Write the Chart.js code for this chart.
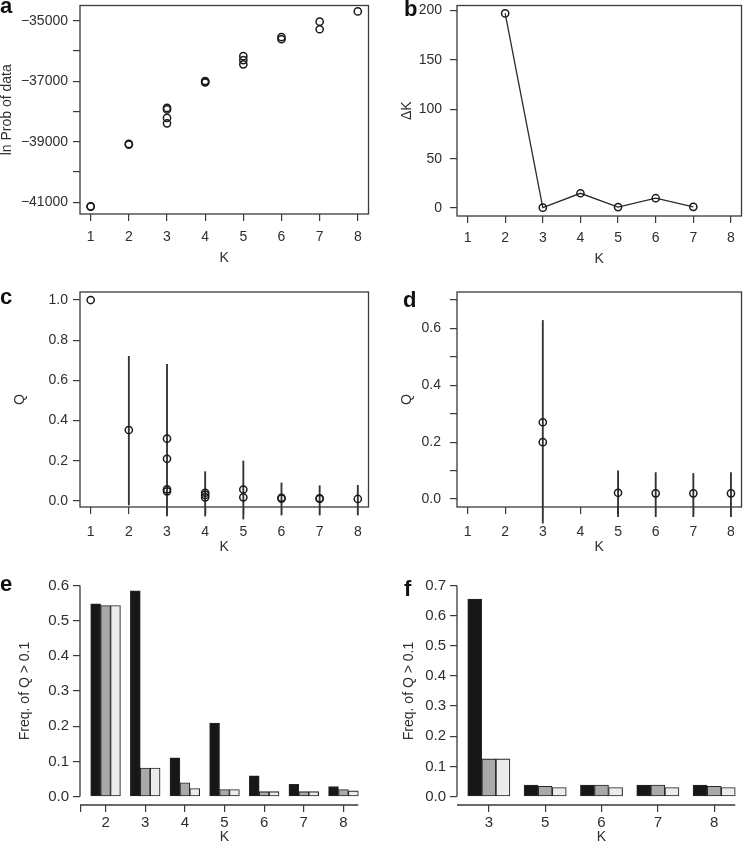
<!DOCTYPE html>
<html>
<head>
<meta charset="utf-8">
<title>Choice of K</title>
<script src="https://cdn.jsdelivr.net/npm/chart.js@4.4.1/dist/chart.umd.min.js"></script>
<style>
  html, body { margin: 0; padding: 0; background: #fff; }
  body { position: relative; width: 747px; height: 843px; overflow: hidden; font-family: "Liberation Sans", Arial, sans-serif; }
  .panel { position: absolute; }
  .tag { position: absolute; font: bold 22px/22px "Liberation Sans", Arial, sans-serif; color: #111; }
</style>
</head>
<body>
<div class="panel" style="left:0;top:0;width:374px;height:280px"><canvas id="chartA"></canvas></div>
<div class="panel" style="left:374px;top:0;width:373px;height:280px"><canvas id="chartB"></canvas></div>
<div class="panel" style="left:0;top:280px;width:374px;height:280px"><canvas id="chartC"></canvas></div>
<div class="panel" style="left:374px;top:280px;width:373px;height:280px"><canvas id="chartD"></canvas></div>
<div class="panel" style="left:0;top:560px;width:374px;height:300px"><canvas id="chartE"></canvas></div>
<div class="panel" style="left:374px;top:560px;width:373px;height:300px"><canvas id="chartF"></canvas></div>

<div class="tag" style="left:0;top:-5px">a</div>
<div class="tag" style="left:404px;top:-2px">b</div>
<div class="tag" style="left:0;top:286px">c</div>
<div class="tag" style="left:403px;top:289px">d</div>
<div class="tag" style="left:0;top:573px">e</div>
<div class="tag" style="left:404px;top:578px">f</div>

<script>
// ===================== DATA =====================

const kTicks = [1, 2, 3, 4, 5, 6, 7, 8];
const kTickLabels = ['1', '2', '3', '4', '5', '6', '7', '8'];

// a: ln Prob of data, one point per run
const runK      = [1, 1, 2, 2, 3, 3, 3, 3, 4, 4, 4, 5, 5, 5, 6, 6, 7, 7, 8];
const runLnProb = [-41140, -41130, -39090, -39070, -37880, -37930, -38210, -38390, -36990, -37010, -37040,
                   -36170, -36300, -36440, -35540, -35610, -35030, -35280, -34690];
const lnProbTicks = [-41000, -40000, -39000, -38000, -37000, -36000, -35000];
const lnProbTickLabels = ['\u221241000', '', '\u221239000', '', '\u221237000', '', '\u221235000'];

// b: delta K
const deltaKK = [2, 3, 4, 5, 6, 7];
const deltaK  = [197, 0.4, 15, 1, 10, 1.3];
const deltaKTicks = [0, 50, 100, 150, 200];
const deltaKTickLabels = ['0', '50', '100', '150', '200'];

// c: Q, all clusters
const qAllK = [1, 2, 3, 3, 3, 3, 4, 4, 4, 5, 5, 6, 6, 7, 7, 8];
const qAll  = [1.0, 0.353, 0.31, 0.21, 0.058, 0.048, 0.041, 0.03, 0.018, 0.057, 0.018, 0.016, 0.012, 0.013, 0.011, 0.01];
const qAllRangeK    = [2, 3, 4, 5, 6, 7, 8];
const qAllRangeLow  = [-0.02, -0.075, -0.075, -0.09, -0.07, -0.07, -0.07];
const qAllRangeHigh = [0.72, 0.68, 0.146, 0.199, 0.09, 0.076, 0.078];
const qAllTicks = [0, 0.2, 0.4, 0.6, 0.8, 1.0];
const qAllTickLabels = ['0.0', '0.2', '0.4', '0.6', '0.8', '1.0'];

// d: Q, subset
const qSubK = [3, 3, 5, 6, 7, 8];
const qSub  = [0.27, 0.2, 0.022, 0.02, 0.02, 0.02];
const qSubRangeK    = [3, 5, 6, 7, 8];
const qSubRangeLow  = [-0.085, -0.062, -0.062, -0.062, -0.062];
const qSubRangeHigh = [0.628, 0.099, 0.093, 0.09, 0.093];
const qSubTicks = [0, 0.1, 0.2, 0.3, 0.4, 0.5, 0.6, 0.7];
const qSubTickLabels = ['0.0', '', '0.2', '', '0.4', '', '0.6', ''];

// e: Freq. of Q > 0.1, all
const freqAllK     = ['2', '3', '4', '5', '6', '7', '8'];
const freqAllBlack = [0.548, 0.585, 0.11, 0.209, 0.059, 0.035, 0.028];
const freqAllGray  = [0.543, 0.081, 0.039, 0.02, 0.014, 0.014, 0.02];
const freqAllWhite = [0.543, 0.081, 0.023, 0.02, 0.014, 0.014, 0.016];
const freqAllTicks = [0, 0.1, 0.2, 0.3, 0.4, 0.5, 0.6];
const freqAllTickLabels = ['0.0', '0.1', '0.2', '0.3', '0.4', '0.5', '0.6'];

// f: Freq. of Q > 0.1, subset
const freqSubK     = ['3', '5', '6', '7', '8'];
const freqSubBlack = [0.655, 0.038, 0.038, 0.038, 0.038];
const freqSubGray  = [0.125, 0.034, 0.038, 0.038, 0.034];
const freqSubWhite = [0.125, 0.03, 0.03, 0.03, 0.03];
const freqSubTicks = [0, 0.1, 0.2, 0.3, 0.4, 0.5, 0.6, 0.7];
const freqSubTickLabels = ['0.0', '0.1', '0.2', '0.3', '0.4', '0.5', '0.6', '0.7'];

// ===================== STYLE / LAYOUT =====================

const AXIS = '#3a3a3a';
const TEXT = '#2e2e2e';
const FONT = '"Liberation Sans", Arial, sans-serif';
const HALF_LINE = 8.4; // half line height of 14px titles

// box = canvas [x, y, w, h] on page, area = plot box [l, t, r, b] on page
const LAYOUT = {
    a: { box: [0, 0, 374, 280],     area: [80, 1, 369, 214],    yTitleX: 7,   xTitleY: 258 },
    b: { box: [374, 0, 373, 280],   area: [457, 2, 746, 216],   yTitleX: 407, xTitleY: 259 },
    c: { box: [0, 280, 374, 280],   area: [80, 292, 369, 507],  yTitleX: 20,  xTitleY: 547 },
    d: { box: [374, 280, 373, 280], area: [457, 292, 746, 507], yTitleX: 407, xTitleY: 547 },
    e: { box: [0, 560, 374, 300],   area: [80, 577, 369, 805],  yTitleX: 25,  xTitleY: 837 },
    f: { box: [374, 560, 373, 300], area: [457, 577, 746, 805], yTitleX: 409, xTitleY: 837 }
};

// R-like frame: full box for scatter panels, separate axis lines for barplots
const rFrame = {
    id: 'rFrame',
    afterDatasetsDraw(chart, args, opts) {
        const { ctx, chartArea: a } = chart;
        ctx.save();
        ctx.strokeStyle = AXIS;
        ctx.lineWidth = 1.3;
        if (opts.mode === 'box') {
            ctx.strokeRect(a.left, a.top, a.right - a.left, a.bottom - a.top);
        } else if (opts.mode === 'bars') {
            const y = chart.scales.y;
            const t = y.ticks;
            let right = a.left;
            chart.getSortedVisibleDatasetMetas().forEach(m => {
                m.data.forEach(b => { right = Math.max(right, b.x + b.width / 2); });
            });
            ctx.beginPath();
            ctx.moveTo(a.left, y.getPixelForValue(t[0].value));
            ctx.lineTo(a.left, y.getPixelForValue(t[t.length - 1].value));
            ctx.moveTo(a.left, a.bottom);
            ctx.lineTo(right, a.bottom);
            ctx.stroke();
        }
        ctx.restore();
    }
};

function buildOptions(L, x, y, mode) {
    const [cx, cy, cw, ch] = L.box;
    const [al, at, ar, ab] = L.area;
    const tickGrid = { drawOnChartArea: false, drawTicks: true, tickLength: 7, color: AXIS, lineWidth: 1.2, offset: false };
    return {
        responsive: true,
        maintainAspectRatio: false,
        animation: false,
        events: [],
        layout: { padding: { left: 0, top: at - cy, right: cx + cw - ar, bottom: 0 } },
        plugins: { legend: { display: false }, tooltip: { enabled: false }, rFrame: { mode: mode } },
        scales: {
            x: {
                type: 'linear', min: x.min, max: x.max, offset: false,
                afterBuildTicks: s => { s.ticks = x.ticks.map(v => ({ value: v })); },
                afterFit: s => { s.height = cy + ch - ab; s.paddingLeft = 0; s.paddingRight = 0; },
                ticks: { autoSkip: false, maxRotation: 0, padding: x.pad, color: TEXT,
                         font: { family: FONT, size: x.size }, callback: (v, i) => x.labels[i] },
                grid: tickGrid,
                border: { display: false },
                title: { display: true, text: 'K', color: TEXT, font: { family: FONT, size: 14 },
                         padding: { top: 0, bottom: cy + ch - HALF_LINE - L.xTitleY } }
            },
            y: {
                type: 'linear', min: y.min, max: y.max,
                afterBuildTicks: s => { s.ticks = y.ticks.map(v => ({ value: v })); },
                afterFit: s => { s.width = al - cx; s.paddingTop = 0; s.paddingBottom = 0; },
                ticks: { autoSkip: false, padding: y.pad, color: TEXT,
                         font: { family: FONT, size: y.size }, callback: (v, i) => y.labels[i] },
                grid: tickGrid,
                border: { display: false },
                title: { display: true, text: y.title, color: TEXT, font: { family: FONT, size: 14 },
                         padding: { top: L.yTitleX - cx - HALF_LINE, bottom: 0 } }
            }
        }
    };
}

const pointStyle = {
    pointStyle: 'circle', pointRadius: 3.6, pointBorderWidth: 1.5,
    pointBorderColor: '#1a1a1a', pointBackgroundColor: 'rgba(0,0,0,0)'
};

function points(xs, ys, extra) {
    return Object.assign({ data: xs.map((k, i) => ({ x: k, y: ys[i] })), showLine: false }, pointStyle, extra || {});
}

function ranges(xs, lo, hi) {
    return {
        type: 'bar', grouped: false, clip: false,
        data: xs.map((k, i) => ({ x: k, y: [lo[i], hi[i]] })),
        barThickness: 1.2, backgroundColor: '#333333', borderWidth: 0
    };
}

// grouped bars: each group = 3 bars + 1 bar gap, like barplot(beside=TRUE)
function barGroups(cats, series, colors) {
    return series.map((vals, j) => ({
        grouped: false,
        data: vals.map((v, i) => ({ x: 4 * i + 1.5 + j, y: v })),
        backgroundColor: colors[j], borderColor: '#262626', borderWidth: 1.1, borderSkipped: false
    }));
}

function groupRange(n) {
    const pad = 0.04 * (4 * n - 1);
    return { min: 1 - pad, max: 4 * n + pad };
}

const BAR_COLORS = ['#171717', '#a9a9a9', '#ececec'];

// ===================== PANEL CHARTS =====================

// a: ln Prob of data
new Chart(document.getElementById('chartA'), {
    type: 'scatter',
    data: { datasets: [points(runK, runLnProb)] },
    options: buildOptions(LAYOUT.a,
        { min: 0.72, max: 8.28, ticks: kTicks, labels: kTickLabels, pad: 8, size: 14 },
        { min: -41385, max: -34495, ticks: lnProbTicks, labels: lnProbTickLabels, pad: 5, size: 14, title: 'ln Prob of data' },
        'box'),
    plugins: [rFrame]
});

// b: delta K
new Chart(document.getElementById('chartB'), {
    type: 'scatter',
    data: { datasets: [points(deltaKK, deltaK, { showLine: true, borderColor: '#2a2a2a', borderWidth: 1.3 })] },
    options: buildOptions(LAYOUT.b,
        { min: 0.72, max: 8.28, ticks: kTicks, labels: kTickLabels, pad: 7, size: 14 },
        { min: -8, max: 205, ticks: deltaKTicks, labels: deltaKTickLabels, pad: 8, size: 14, title: '\u0394K' },
        'box'),
    plugins: [rFrame]
});

// c: Q all
new Chart(document.getElementById('chartC'), {
    type: 'scatter',
    data: { datasets: [points(qAllK, qAll), ranges(qAllRangeK, qAllRangeLow, qAllRangeHigh)] },
    options: buildOptions(LAYOUT.c,
        { min: 0.72, max: 8.28, ticks: kTicks, labels: kTickLabels, pad: 10, size: 14 },
        { min: -0.03, max: 1.04, ticks: qAllTicks, labels: qAllTickLabels, pad: 5, size: 14, title: 'Q' },
        'box'),
    plugins: [rFrame]
});

// d: Q subset
new Chart(document.getElementById('chartD'), {
    type: 'scatter',
    data: { datasets: [points(qSubK, qSub), ranges(qSubRangeK, qSubRangeLow, qSubRangeHigh)] },
    options: buildOptions(LAYOUT.d,
        { min: 0.72, max: 8.28, ticks: kTicks, labels: kTickLabels, pad: 10, size: 14 },
        { min: -0.028, max: 0.728, ticks: qSubTicks, labels: qSubTickLabels, pad: 9, size: 14, title: 'Q' },
        'box'),
    plugins: [rFrame]
});

// e: frequency of Q > 0.1, all
const eRange = groupRange(freqAllK.length);
const eOpts = buildOptions(LAYOUT.e,
    { min: eRange.min, max: eRange.max, ticks: [0].concat(freqAllK.map((k, i) => 4 * i + 2.5)),
      labels: [''].concat(freqAllK), pad: 2, size: 15 },
    { min: -0.024, max: 0.624, ticks: freqAllTicks, labels: freqAllTickLabels, pad: 4, size: 15, title: 'Freq. of Q > 0.1' },
    'bars');
new Chart(document.getElementById('chartE'), {
    type: 'bar',
    data: { datasets: barGroups(freqAllK, [freqAllBlack, freqAllGray, freqAllWhite], BAR_COLORS)
        .map(d => Object.assign(d, { barThickness: 9.9 })) },
    options: eOpts,
    plugins: [rFrame]
});

// f: frequency of Q > 0.1, subset
const fRange = groupRange(freqSubK.length);
const fOpts = buildOptions(LAYOUT.f,
    { min: fRange.min, max: fRange.max, ticks: freqSubK.map((k, i) => 4 * i + 2.5),
      labels: freqSubK, pad: 2, size: 15 },
    { min: -0.028, max: 0.728, ticks: freqSubTicks, labels: freqSubTickLabels, pad: 4, size: 15, title: 'Freq. of Q > 0.1' },
    'bars');
new Chart(document.getElementById('chartF'), {
    type: 'bar',
    data: { datasets: barGroups(freqSubK, [freqSubBlack, freqSubGray, freqSubWhite], BAR_COLORS)
        .map(d => Object.assign(d, { barThickness: 14 })) },
    options: fOpts,
    plugins: [rFrame]
});
</script>
</body>
</html>
